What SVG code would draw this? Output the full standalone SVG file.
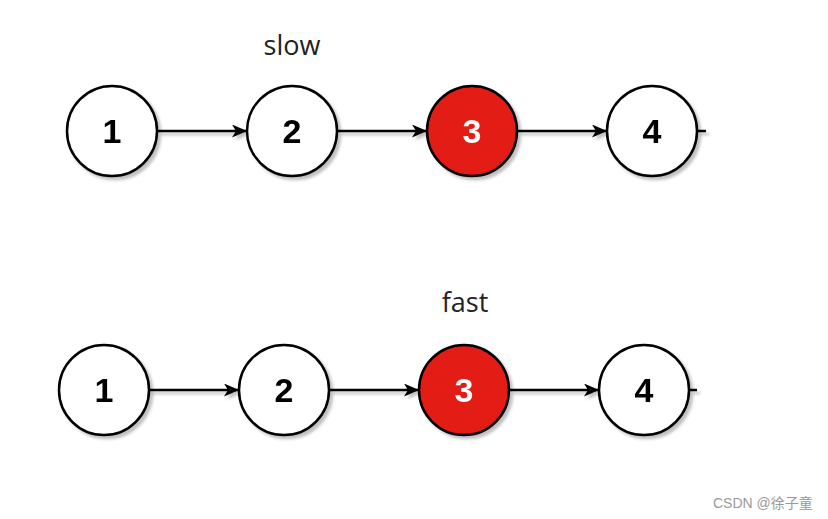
<svg xmlns="http://www.w3.org/2000/svg" width="828" height="519" viewBox="0 0 828 519">
<style>
.node{fill:#fff;stroke:#000;stroke-width:2.5}
.red{fill:#e31c13}
.num{font-family:"Liberation Sans",Arial,sans-serif;font-weight:bold;font-size:34px;text-anchor:middle;fill:#000}
.numw{fill:#fff}
.edge{stroke:#000;stroke-width:2.5;fill:none}
.lbl{font-family:"Open Sans","Noto Sans","Liberation Sans",sans-serif;font-size:27px;fill:#222;text-anchor:middle}
.wm{font-family:"Liberation Sans","Noto Sans CJK SC",sans-serif;font-size:14px;fill:#999}
</style>
<defs>
<marker id="arr" markerWidth="15" markerHeight="13" refX="14" refY="6.5" orient="auto" markerUnits="userSpaceOnUse" viewBox="0 0 15 13">
<path d="M0,0 L15,6.5 L0,13 L4,6.5 Z" fill="#000"/>
</marker>
<filter id="sh" x="-20%" y="-20%" width="150%" height="150%">
<feGaussianBlur in="SourceAlpha" stdDeviation="1.5"/>
<feOffset dx="3" dy="3"/>
<feComponentTransfer><feFuncA type="linear" slope="0.25"/></feComponentTransfer>
<feMerge><feMergeNode/><feMergeNode in="SourceGraphic"/></feMerge>
</filter>
</defs>
<rect width="828" height="519" fill="#fff"/>
<text class="lbl" x="292" y="55">slow</text>
<text class="lbl" x="465" y="312">fast</text>
<g id="edges" filter="url(#sh)">
<line class="edge" x1="158" y1="131" x2="246" y2="131" marker-end="url(#arr)"/>
<line class="edge" x1="338" y1="131" x2="426" y2="131" marker-end="url(#arr)"/>
<line class="edge" x1="518" y1="131" x2="606" y2="131" marker-end="url(#arr)"/>
<line class="edge" x1="697" y1="131" x2="706" y2="131"/>
<line class="edge" x1="149" y1="390" x2="238" y2="390" marker-end="url(#arr)"/>
<line class="edge" x1="330" y1="390" x2="418" y2="390" marker-end="url(#arr)"/>
<line class="edge" x1="510" y1="390" x2="598" y2="390" marker-end="url(#arr)"/>
<line class="edge" x1="690" y1="390" x2="697" y2="390"/>
</g>
<g id="s1" filter="url(#sh)"><circle class="node" cx="112" cy="131" r="45"/><text class="num" x="112" y="143">1</text></g>
<g id="s2" filter="url(#sh)"><circle class="node" cx="292" cy="131" r="45"/><text class="num" x="292" y="143">2</text></g>
<g id="s3" filter="url(#sh)"><circle class="node red" cx="472" cy="131" r="45"/><text class="num numw" x="472" y="143">3</text></g>
<g id="s4" filter="url(#sh)"><circle class="node" cx="652" cy="131" r="45"/><text class="num" x="652" y="143">4</text></g>
<g id="f1" filter="url(#sh)"><circle class="node" cx="104" cy="390" r="45"/><text class="num" x="104" y="402">1</text></g>
<g id="f2" filter="url(#sh)"><circle class="node" cx="284" cy="390" r="45"/><text class="num" x="284" y="402">2</text></g>
<g id="f3" filter="url(#sh)"><circle class="node red" cx="464" cy="390" r="45"/><text class="num numw" x="464" y="402">3</text></g>
<g id="f4" filter="url(#sh)"><circle class="node" cx="644" cy="390" r="45"/><text class="num" x="644" y="402">4</text></g>
<text class="wm" x="713" y="508">CSDN @徐子童</text>
</svg>
